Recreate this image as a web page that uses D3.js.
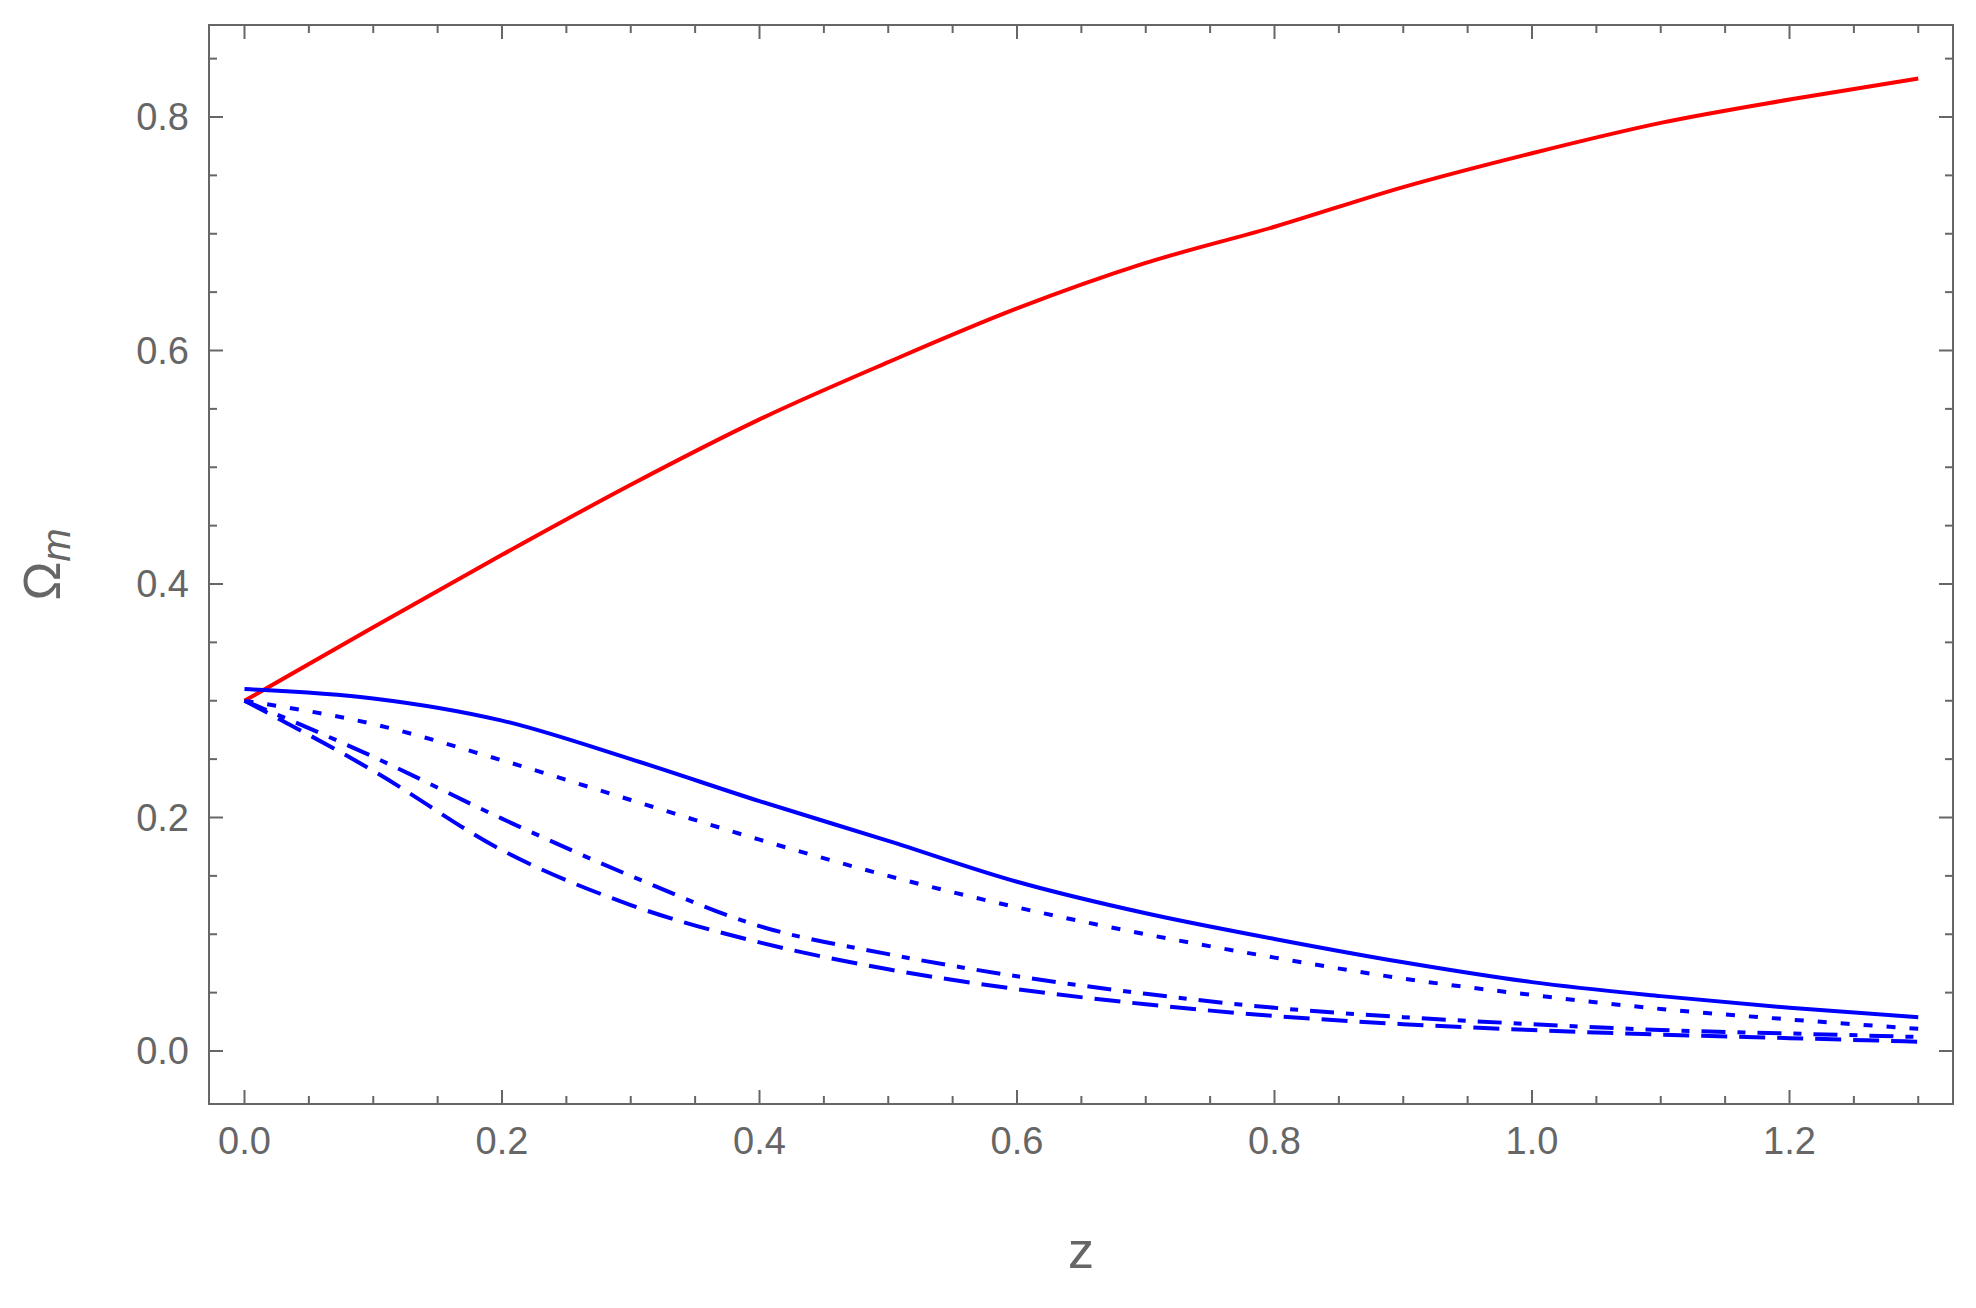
<!DOCTYPE html>
<html><head><meta charset="utf-8">
<script src="https://cdn.jsdelivr.net/npm/d3@7"></script>
<style>body{margin:0;background:#fff}text{font-family:"Liberation Sans",Arial,sans-serif;fill:#666}</style>
</head><body><svg id="c" width="1976" height="1308"></svg>
<script>
// values
const zs      = [0, 0.1, 0.2, 0.3, 0.4, 0.5, 0.6, 0.7, 0.8, 0.9, 1.0, 1.1, 1.2, 1.3];
const red     = [0.30, 0.363, 0.425, 0.485, 0.541, 0.59, 0.636, 0.675, 0.706, 0.74, 0.769, 0.795, 0.815, 0.833];
const solid   = [0.31, 0.302, 0.283, 0.25, 0.214, 0.18, 0.145, 0.118, 0.096, 0.076, 0.059, 0.047, 0.037, 0.029];
const dotted  = [0.30, 0.28, 0.249, 0.215, 0.181, 0.15, 0.123, 0.10, 0.08, 0.062, 0.048, 0.036, 0.027, 0.019];
const dashdot = [0.30, 0.252, 0.199, 0.15, 0.107, 0.083, 0.064, 0.049, 0.037, 0.029, 0.023, 0.018, 0.015, 0.012];
const dashed  = [0.30, 0.24, 0.172, 0.125, 0.093, 0.07, 0.053, 0.04, 0.03, 0.023, 0.018, 0.014, 0.011, 0.008];
const xTicks = [0, 0.2, 0.4, 0.6, 0.8, 1.0, 1.2];
const yTicks = [0, 0.2, 0.4, 0.6, 0.8];

const L = 209, R = 1953, T = 25, B = 1104;
const x = d3.scaleLinear().domain([0, 1.2]).range([244.5, 1789.5]);
const y = d3.scaleLinear().domain([0, 0.8]).range([1051, 117]);
const svg = d3.select("#c");

svg.append("rect").attr("x", L).attr("y", T).attr("width", R - L).attr("height", B - T)
  .attr("fill", "none").attr("stroke", "#666").attr("stroke-width", 2);

const minorX = d3.range(-0.05, 1.36, 0.05).filter(v => x(v) > L && x(v) < R);
const minorY = d3.range(-0.05, 0.9, 0.05).filter(v => y(v) > T && y(v) < B);
const g = svg.append("g").attr("stroke", "#666").attr("stroke-width", 2);
minorX.forEach(v => {
  const major = xTicks.some(t => Math.abs(t - v) < 1e-6), len = major ? 14 : 8;
  g.append("line").attr("x1", x(v)).attr("x2", x(v)).attr("y1", B).attr("y2", B - len);
  g.append("line").attr("x1", x(v)).attr("x2", x(v)).attr("y1", T).attr("y2", T + len);
});
minorY.forEach(v => {
  const major = yTicks.some(t => Math.abs(t - v) < 1e-6), len = major ? 14 : 8;
  g.append("line").attr("y1", y(v)).attr("y2", y(v)).attr("x1", L).attr("x2", L + len);
  g.append("line").attr("y1", y(v)).attr("y2", y(v)).attr("x1", R).attr("x2", R - len);
});
xTicks.forEach(v => svg.append("text").attr("x", x(v)).attr("y", B + 50).attr("text-anchor", "middle")
  .attr("font-size", 38).text(v.toFixed(1)));
yTicks.forEach(v => svg.append("text").attr("x", L - 20).attr("y", y(v) + 13).attr("text-anchor", "end")
  .attr("font-size", 38).text(v.toFixed(1)));

svg.append("text").attr("x", (L + R) / 2).attr("y", 1268).attr("text-anchor", "middle")
  .attr("font-size", 52).text("z");
const yl = svg.append("text").attr("transform", `translate(60,${(T + B) / 2}) rotate(-90)`)
  .attr("text-anchor", "middle").attr("font-size", 52);
yl.append("tspan").text("Ω");
yl.append("tspan").attr("font-style", "italic").attr("font-size", 40).attr("dy", 10).text("m");

const line = d3.line().x((d, i) => x(zs[i])).y(d => y(d)).curve(d3.curveMonotoneX);
const series = [
  [red, "red", null],
  [solid, "blue", null],
  [dotted, "blue", "9,14"],
  [dashdot, "blue", "24,12,8,12"],
  [dashed, "blue", "26,12"]
];
series.forEach(([vals, col, dash]) => {
  svg.append("path").attr("d", line(vals)).attr("fill", "none").attr("stroke", col)
    .attr("stroke-width", 4).attr("stroke-dasharray", dash);
});
</script></body></html>
